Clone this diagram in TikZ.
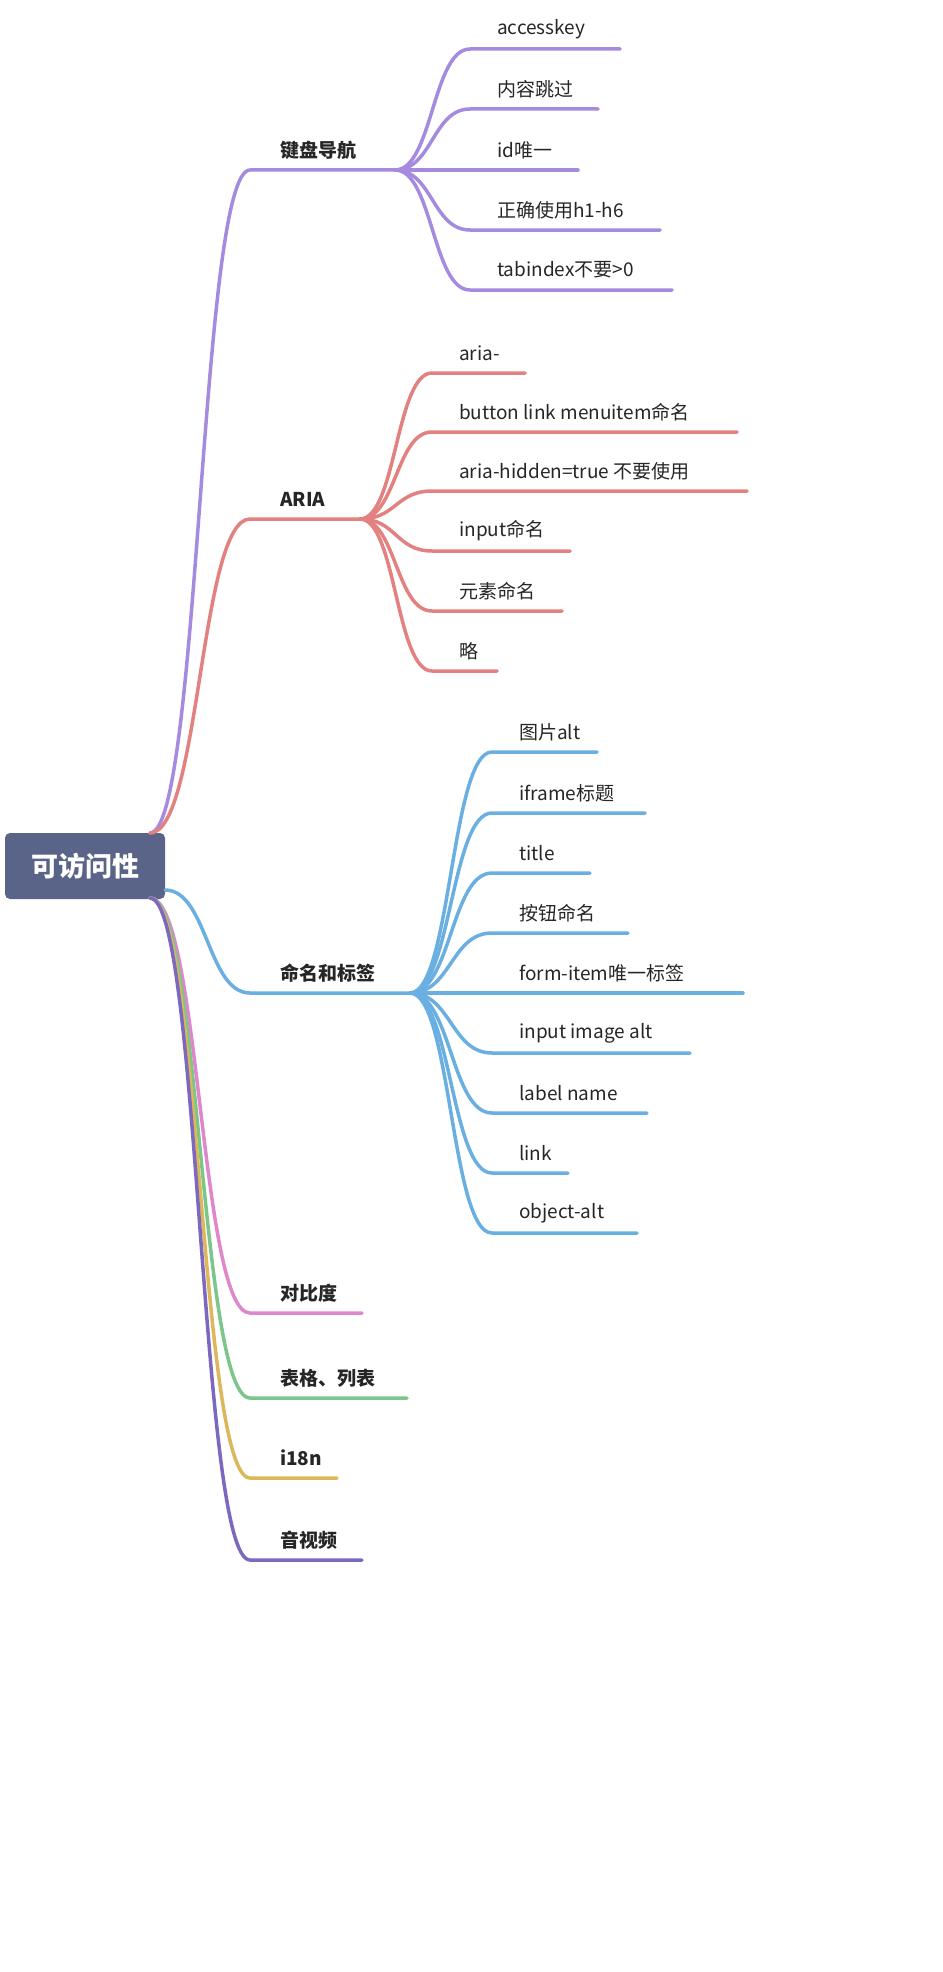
\documentclass[tikz,border=0pt]{standalone}
\usepackage{fontspec}
\setmainfont{Noto Sans CJK SC}
\definecolor{cKey}{HTML}{A58BE0}
\definecolor{cAria}{HTML}{E38181}
\definecolor{cName}{HTML}{6AAFE2}
\definecolor{cCon}{HTML}{DE88CB}
\definecolor{cTab}{HTML}{7CC58B}
\definecolor{cI18}{HTML}{DDB85B}
\definecolor{cAV}{HTML}{7D68C0}
\definecolor{cRoot}{HTML}{5A6488}
\begin{document}
\begin{tikzpicture}[x=1pt,y=-1pt,
  line/.style={line width=3.5pt,line cap=round},
  leaf/.style={anchor=west,inner sep=0pt,font=\fontsize{19}{22}\selectfont,text=black!85},
  topic/.style={anchor=west,inner sep=0pt,font=\fontsize{19}{22}\selectfont\bfseries,text=black!85}]
\useasboundingbox (0,0) rectangle (942,1972);

%Raiz
\node[fill=cRoot,rounded corners=5pt,minimum width=160pt,minimum height=66pt,
  text=white,font=\fontsize{27}{30}\selectfont\bfseries] (root) at (85,866) {可访问性};

%Ramas principales: nombre/y/fin/color/texto/salida x/salida y
\foreach \br/\yy/\ee/\cc/\tt/\sx/\sy in {key/170/395/cKey/键盘导航/150/833, aria/519/360/cAria/ARIA/150/833,
    name/993/410/cName/命名和标签/165/890, con/1313/362/cCon/对比度/150/898,
    tab/1398/407/cTab/表格、列表/150/898, i18/1478/337/cI18/i18n/150/898, av/1560/362/cAV/音视频/150/898}{
  \coordinate (\br-o) at (\sx,\sy);
  \coordinate (\br-s) at (250,\yy);
  \coordinate (\br-e) at (\ee,\yy);
  \node[topic] (\br) at (280,\yy-20) {\tt};
  \draw[line,\cc] (\br-o) .. controls ({(\sx+250)/2},\sy) and ({(\sx+250)/2},\yy) .. (\br-s) -- (\br-e);
}

%Hojas: rama/color/inicio/y/fin/texto/padre x/padre y
\foreach \br/\cc/\xx/\yy/\ee/\tt/\px/\py in {
    key/cKey/470/49/620/accesskey/395/170, key/cKey/470/109/598/内容跳过/395/170,
    key/cKey/470/170/578/id唯一/395/170, key/cKey/470/230/660/正确使用h1-h6/395/170,
    key/cKey/470/290/672/tabindex不要>0/395/170,
    aria/cAria/432/373/525/aria-/360/519, aria/cAria/432/432/737/button link menuitem命名/360/519,
    aria/cAria/432/491/747/aria-hidden=true 不要使用/360/519, aria/cAria/432/551/570/input命名/360/519,
    aria/cAria/432/611/562/元素命名/360/519, aria/cAria/432/671/497/略/360/519,
    name/cName/492/752/597/图片alt/410/993, name/cName/492/813/645/iframe标题/410/993,
    name/cName/492/873/590/title/410/993, name/cName/492/933/628/按钮命名/410/993,
    name/cName/492/993/743/form-item唯一标签/410/993, name/cName/492/1053/690/input image alt/410/993,
    name/cName/492/1113/647/label name/410/993, name/cName/492/1173/568/link/410/993,
    name/cName/492/1233/637/object-alt/410/993}{
  \coordinate (ls) at (\xx,\yy);
  \coordinate (le) at (\ee,\yy);
  \node[leaf] (lt) at (\xx+27,\yy-20) {\tt};
  \draw[line,\cc] (\br-e) .. controls ({(\px+\xx)/2},\py) and ({(\px+\xx)/2},\yy) .. (ls) -- (le);
}
\end{tikzpicture}
\end{document}
